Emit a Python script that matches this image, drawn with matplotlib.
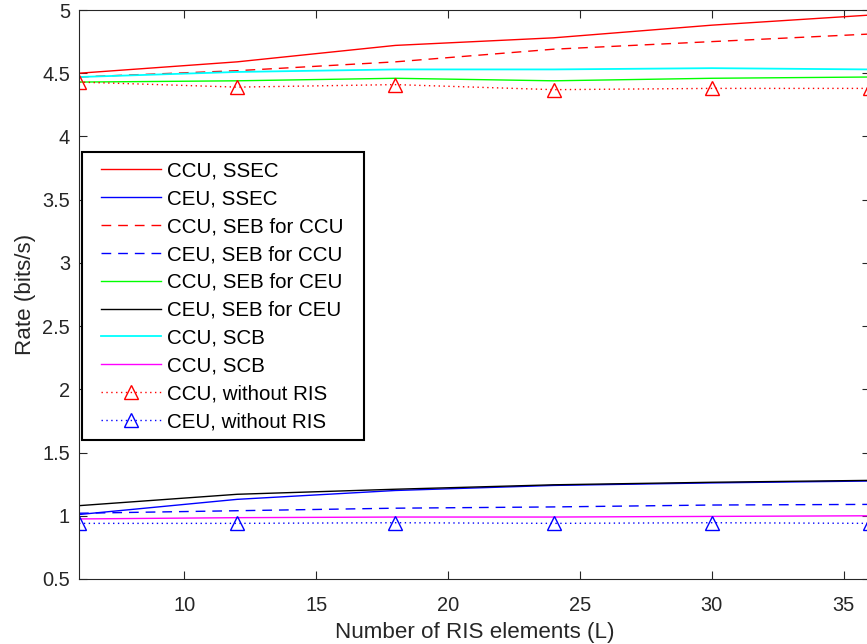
import matplotlib
matplotlib.use('Agg')
import matplotlib.pyplot as plt
from matplotlib import rcParams
from matplotlib.patches import Rectangle

rcParams['font.family'] = ['Liberation Sans', 'DejaVu Sans']

# 数据
L = [6, 12, 18, 24, 30, 36]
ccu_ssec = [4.50, 4.59, 4.72, 4.78, 4.88, 4.96]
ceu_ssec = [1.01, 1.13, 1.20, 1.24, 1.26, 1.275]
ccu_seb_ccu = [4.47, 4.52, 4.59, 4.69, 4.75, 4.81]
ceu_seb_ccu = [1.02, 1.04, 1.06, 1.07, 1.085, 1.09]
ccu_seb_ceu = [4.43, 4.44, 4.46, 4.44, 4.46, 4.47]
ceu_seb_ceu = [1.08, 1.17, 1.21, 1.245, 1.265, 1.28]
ccu_scb = [4.47, 4.51, 4.53, 4.53, 4.54, 4.53]
ceu_scb = [0.975, 0.985, 0.99, 0.99, 0.995, 1.0]
ccu_noris = [4.43, 4.39, 4.41, 4.37, 4.38, 4.38]
ceu_noris = [0.94, 0.94, 0.945, 0.94, 0.945, 0.94]

fig = plt.figure(figsize=(8.67, 6.44), dpi=100)
ax = fig.add_axes([79/867, 65/644, 791/867, 569/644])

dash = (7, 5)
dot = (0, (1, 2.5))
ax.plot(L, ccu_ssec, color='#FF0000', lw=1, label='CCU, SSEC')
ax.plot(L, ceu_ssec, color='#0000FF', lw=1, label='CEU, SSEC')
ax.plot(L, ccu_seb_ccu, color='#FF0000', lw=1, dashes=dash, label='CCU, SEB for CCU')
ax.plot(L, ceu_seb_ccu, color='#0000FF', lw=1, dashes=dash, label='CEU, SEB for CCU')
ax.plot(L, ccu_seb_ceu, color='#00FF00', lw=1, label='CCU, SEB for CEU')
ax.plot(L, ceu_seb_ceu, color='black', lw=1, label='CEU, SEB for CEU')
ax.plot(L, ccu_scb, color='#00FFFF', lw=1.3, label='CCU, SCB')
ax.plot(L, ceu_scb, color='#FF00FF', lw=1, label='CCU, SCB')
ax.plot(L, ccu_noris, color='#FF0000', lw=1, linestyle=dot, marker='^', ms=10,
        mfc='none', mew=1, label='CCU, without RIS')
ax.plot(L, ceu_noris, color='#0000FF', lw=1, linestyle=dot, marker='^', ms=10,
        mfc='none', mew=1, label='CEU, without RIS')

ax.set_xlim(6, 36)
ax.set_ylim(0.5, 5)
ax.set_xticks([10, 15, 20, 25, 30, 35])
ax.set_yticks([0.5, 1, 1.5, 2, 2.5, 3, 3.5, 4, 4.5, 5])
ax.set_yticklabels(['0.5', '1', '1.5', '2', '2.5', '3', '3.5', '4', '4.5', '5'])
ax.tick_params(direction='in', length=5.8, width=0.8, top=True, right=True,
               labelsize=14.4, colors='#262626')
ax.tick_params(axis='x', pad=12)
ax.tick_params(axis='y', pad=6.5)
for s in ax.spines.values():
    s.set_color('#262626')
    s.set_linewidth(0.8)

ax.set_xlabel('Number of RIS elements (L)', fontsize=16.1, color='#262626', labelpad=5.5)
ax.set_ylabel('Rate (bits/s)', fontsize=16.1, color='#262626', labelpad=4.5)

# 图例外框
frame = Rectangle((82/867, 1 - 440/644), 282/867, 288/644, transform=fig.transFigure,
                  facecolor='white', edgecolor='black', linewidth=1.5, zorder=4)
ax.add_patch(frame)

leg = ax.legend(loc='upper left', bbox_to_anchor=(101/867, 1 - 161.5/644),
                bbox_transform=fig.transFigure, fontsize=14.8, frameon=False,
                handlelength=2.92, handletextpad=0.3, labelspacing=0.43,
                borderpad=0, borderaxespad=0)
leg.set_zorder(5)

plt.savefig('out.png', dpi=100)
